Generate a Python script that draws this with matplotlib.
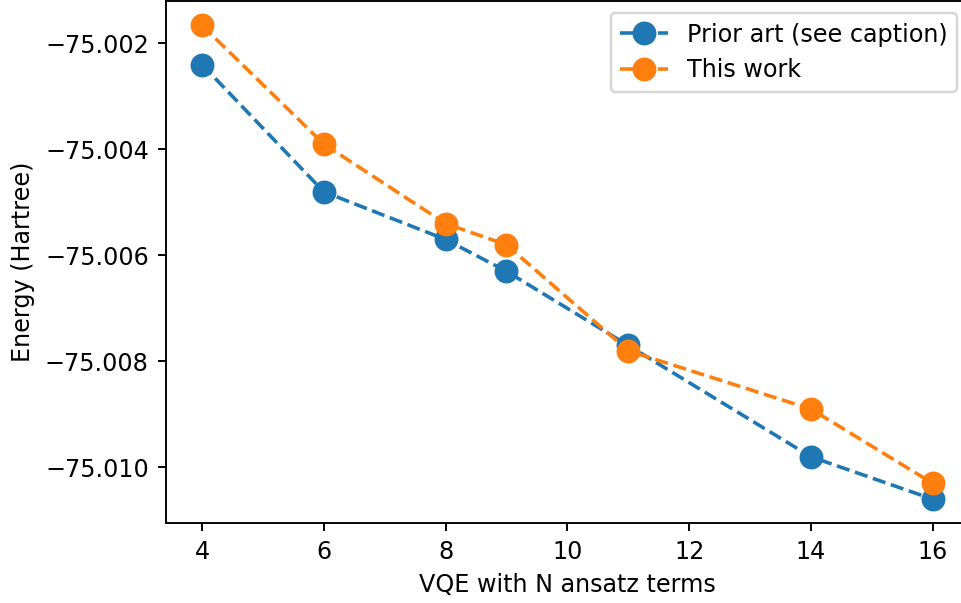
import matplotlib
matplotlib.use("Agg")
import matplotlib.pyplot as plt

n_terms = [4, 6, 8, 9, 11, 14, 16]
prior_art = [-75.0024, -75.0048, -75.0057, -75.0063, -75.0077, -75.0098, -75.0106]
this_work = [-75.00166, -75.0039, -75.0054, -75.0058, -75.0078, -75.0089, -75.0103]

dpi = 172
W, H = 961, 603
fig = plt.figure(figsize=(W / dpi, H / dpi), dpi=dpi)
left, right, top, bottom = 165.5, 969.2, 1.0, 523.0
ax = fig.add_axes([left / W, 1 - bottom / H, (right - left) / W, (bottom - top) / H])

ax.plot(n_terms, prior_art, "o--", color="#1f77b4", markersize=9, linewidth=1.5,
        label="Prior art (see caption)")
ax.plot(n_terms, this_work, "o--", color="#ff7f0e", markersize=9, linewidth=1.5,
        label="This work")

ax.set_xlim(3.4, 16.6)
ax.set_ylim(-75.01105, -75.0012)
ax.ticklabel_format(axis="y", useOffset=False)
ax.set_xticks([4, 6, 8, 10, 12, 14, 16])
ax.set_yticks([-75.002, -75.004, -75.006, -75.008, -75.010])
ax.set_xlabel("VQE with N ansatz terms")
ax.set_ylabel("Energy (Hartree)")
ax.legend(loc="upper right")

fig.savefig("out.png", dpi=dpi)
